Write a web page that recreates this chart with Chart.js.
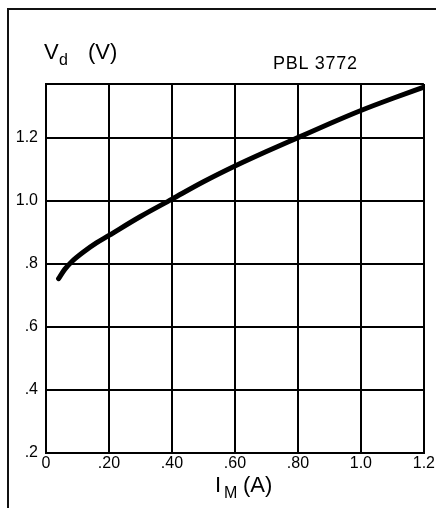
<!DOCTYPE html>
<html>
<head>
<meta charset="utf-8">
<script src="https://cdn.jsdelivr.net/npm/chart.js@4.4.0/dist/chart.umd.min.js"></script>
<style>
  html, body { margin: 0; padding: 0; background: #fff; }
  #wrap { width: 436px; height: 508px; position: relative; }
</style>
</head>
<body>
<div id="wrap"><canvas id="lineChart" width="436" height="508"></canvas></div>
<script>
// curve: I_M (A) -> V_d (V)
const currentA = [0.04, 0.06, 0.08, 0.12, 0.16, 0.20, 0.30, 0.40, 0.50, 0.60, 0.70, 0.80, 0.90, 1.00, 1.10, 1.20];
const voltageV = [0.753, 0.783, 0.805, 0.838, 0.866, 0.890, 0.950, 1.005, 1.060, 1.110, 1.156, 1.200, 1.244, 1.286, 1.324, 1.360];

const xTicks = [0, 0.2, 0.4, 0.6, 0.8, 1.0, 1.2];
const xTickLabels = ["0", ".20", ".40", ".60", ".80", "1.0", "1.2"];
const yTicks = [0.2, 0.4, 0.6, 0.8, 1.0, 1.2];
const yTickLabels = [".2", ".4", ".6", ".8", "1.0", "1.2"];
const yMax = 1.37;

const FONT = "'Liberation Sans', Arial, sans-serif";

// frame and axis titles (with subscripts)
const textPlugin = {
  id: "labels",
  afterDraw(chart) {
    const c = chart.ctx;
    c.save();
    c.strokeStyle = "#111";
    c.lineWidth = 2;
    c.beginPath();
    c.moveTo(8, 508);
    c.lineTo(8, 9);
    c.lineTo(436, 9);
    c.stroke();

    c.fillStyle = "#000";
    c.textBaseline = "alphabetic";
    c.textAlign = "left";
    c.font = "22px " + FONT;
    c.fillText("V", 44, 59);
    c.font = "16px " + FONT;
    c.fillText("d", 59, 65);
    c.font = "22px " + FONT;
    c.fillText("(V)", 88, 59);

    c.font = "18px " + FONT;
    c.letterSpacing = "0.7px";
    c.fillText("PBL 3772", 273, 69);
    c.letterSpacing = "0px";

    c.font = "22px " + FONT;
    c.fillText("I", 215, 492);
    c.font = "16px " + FONT;
    c.fillText("M", 224, 498);
    c.font = "22px " + FONT;
    c.fillText("(A)", 243, 492);
    c.restore();
  }
};

const ctx = document.getElementById("lineChart").getContext("2d");
const chart = new Chart(ctx, {
  type: "line",
  data: {
    datasets: [{
      data: currentA.map((x, i) => ({ x: x, y: voltageV[i] })),
      borderColor: "#000",
      borderWidth: 5,
      pointRadius: 0,
      fill: false,
      cubicInterpolationMode: "monotone",
      borderCapStyle: "round"
    }]
  },
  options: {
    responsive: false,
    animation: false,
    layout: { padding: { top: 84, right: 12, left: 0, bottom: 0 } },
    plugins: { legend: { display: false }, tooltip: { enabled: false } },
    scales: {
      x: {
        type: "linear",
        min: 0,
        max: 1.2,
        afterBuildTicks: (s) => { s.ticks = xTicks.map(v => ({ value: v })); },
        afterFit: (s) => { s.height = 55; },
        grid: { color: "#000", lineWidth: 2, drawTicks: false },
        border: { color: "#000", width: 2 },
        ticks: {
          padding: 1,
          color: "#000",
          font: { family: FONT, size: 16 },
          maxRotation: 0,
          callback: (v) => {
            const i = xTicks.findIndex(t => Math.abs(t - v) < 1e-6);
            return i >= 0 ? xTickLabels[i] : "";
          }
        }
      },
      y: {
        type: "linear",
        min: 0.2,
        max: yMax,
        afterBuildTicks: (s) => { s.ticks = yTicks.concat([yMax]).map(v => ({ value: v })); },
        afterFit: (s) => { s.width = 46; },
        grid: { color: "#000", lineWidth: 2, drawTicks: false },
        border: { color: "#000", width: 2 },
        ticks: {
          padding: 8,
          color: "#000",
          font: { family: FONT, size: 16 },
          callback: (v) => {
            const i = yTicks.findIndex(t => Math.abs(t - v) < 1e-6);
            return i >= 0 ? yTickLabels[i] : "";
          }
        }
      }
    }
  },
  plugins: [textPlugin]
});
</script>
</body>
</html>
